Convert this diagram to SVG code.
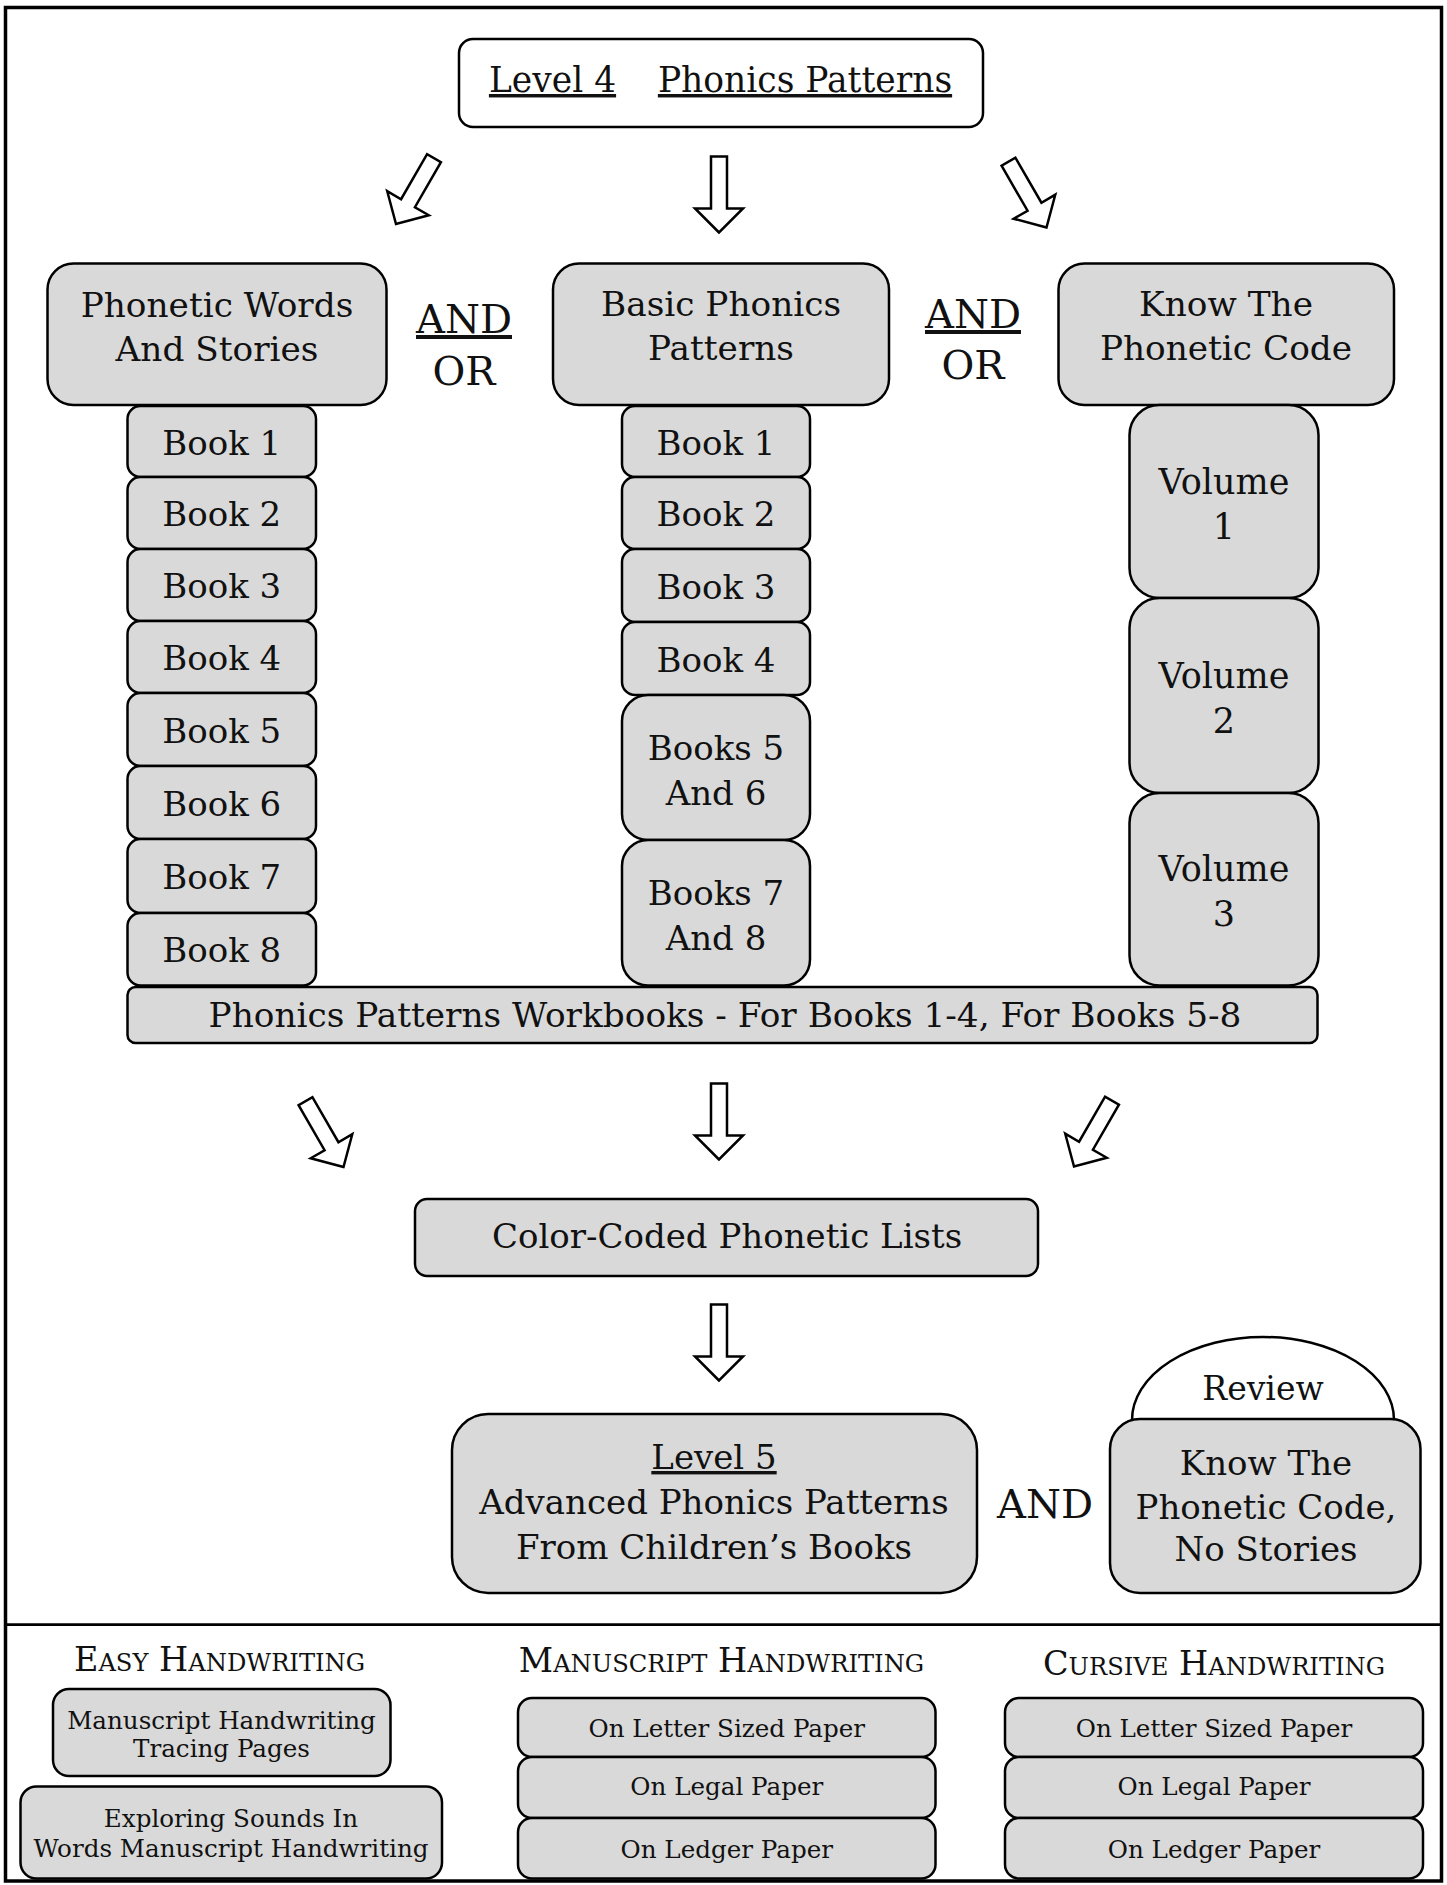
<svg xmlns="http://www.w3.org/2000/svg" width="1447" height="1885" viewBox="0 0 1447 1885">
<defs>
<style>
text{font-family:"DejaVu Serif","Liberation Serif",serif;fill:#111;text-anchor:middle}
.box{fill:#d9d9d9;stroke:#000;stroke-width:2.5}
.wbox{fill:#fff;stroke:#000;stroke-width:2.5}
.arrow{fill:#fff;stroke:#000;stroke-width:2.5;stroke-linejoin:miter}
.hd{font-size:34.3px}
.t34{font-size:34px}
.vol{font-size:35px}
.t40{font-size:40px}
.t33{font-size:33px}
.t24{font-size:24.6px}
.u{text-decoration:underline}
.cap{font-size:33.5px}
.sc{font-size:24.2px}
</style>
<path id="arr" d="M0,0 L-24,-24 L-8,-24 L-8,-76 L8,-76 L8,-24 L24,-24 Z"/>
</defs>
<rect width="1447" height="1885" fill="#fff"/>
<rect x="5.5" y="7.5" width="1436" height="1873.5" fill="none" stroke="#000" stroke-width="3.5"/>
<line x1="5.5" y1="1624.7" x2="1441.5" y2="1624.7" stroke="#000" stroke-width="2.7"/>

<g id="connectors">
<use href="#arr" class="arrow" transform="translate(396,224) rotate(30)"/>
<use href="#arr" class="arrow" transform="translate(719,232.5)"/>
<use href="#arr" class="arrow" transform="translate(1046.5,227.5) rotate(-30)"/>
<use href="#arr" class="arrow" transform="translate(343.5,1167) rotate(-30)"/>
<use href="#arr" class="arrow" transform="translate(719,1159.5)"/>
<use href="#arr" class="arrow" transform="translate(1074,1166.5) rotate(30)"/>
<use href="#arr" class="arrow" transform="translate(719,1380.5)"/>
</g>

<g id="title">
<rect class="wbox" x="459" y="39" width="524" height="88" rx="14"/>
<text class="hd" y="92" style="font-size:34.5px"><tspan class="u" x="552.5">Level 4</tspan><tspan class="u" x="805">Phonics Patterns</tspan></text>
</g>

<g id="phonetic-words">
<rect class="box" x="47.5" y="263.5" width="339" height="141.5" rx="26"/>
<text class="hd" x="217" y="317">Phonetic Words</text>
<text class="hd" x="217" y="361">And Stories</text>
</g>
<g id="basic-phonics">
<rect class="box" x="553" y="263.5" width="336" height="141.5" rx="26"/>
<text class="hd" x="721" y="316">Basic Phonics</text>
<text class="hd" x="721" y="360">Patterns</text>
</g>
<g id="know-code">
<rect class="box" x="1058.5" y="263.5" width="335.5" height="141.5" rx="26"/>
<text class="hd" x="1226" y="316">Know The</text>
<text class="hd" x="1226" y="360">Phonetic Code</text>
</g>

<g id="labels">
<text class="t40 u" x="464" y="333">AND</text>
<text class="t40" x="464" y="385">OR</text>
<text class="t40 u" x="973" y="328">AND</text>
<text class="t40" x="973" y="379">OR</text>
<text class="t40" x="1045" y="1518">AND</text>
</g>

<g id="pws-books">
<rect class="box" x="127.5" y="406" width="188.5" height="71" rx="13"/>
<rect class="box" x="127.5" y="477" width="188.5" height="72" rx="13"/>
<rect class="box" x="127.5" y="549" width="188.5" height="72" rx="13"/>
<rect class="box" x="127.5" y="621" width="188.5" height="72" rx="13"/>
<rect class="box" x="127.5" y="693" width="188.5" height="73" rx="13"/>
<rect class="box" x="127.5" y="766" width="188.5" height="73" rx="13"/>
<rect class="box" x="127.5" y="839" width="188.5" height="74" rx="13"/>
<rect class="box" x="127.5" y="913" width="188.5" height="72.5" rx="13"/>
<text class="t34" x="221.7" y="455">Book 1</text>
<text class="t34" x="221.7" y="526">Book 2</text>
<text class="t34" x="221.7" y="598">Book 3</text>
<text class="t34" x="221.7" y="670">Book 4</text>
<text class="t34" x="221.7" y="742.5">Book 5</text>
<text class="t34" x="221.7" y="815.5">Book 6</text>
<text class="t34" x="221.7" y="889">Book 7</text>
<text class="t34" x="221.7" y="962">Book 8</text>
</g>

<g id="bpp-books">
<rect class="box" x="622" y="406" width="188" height="71" rx="13"/>
<rect class="box" x="622" y="477" width="188" height="72" rx="13"/>
<rect class="box" x="622" y="549" width="188" height="73" rx="13"/>
<rect class="box" x="622" y="622" width="188" height="73" rx="13"/>
<rect class="box" x="622" y="695" width="188" height="145" rx="26"/>
<rect class="box" x="622" y="840" width="188" height="145.5" rx="26"/>
<text class="t34" x="716" y="455">Book 1</text>
<text class="t34" x="716" y="526">Book 2</text>
<text class="t34" x="716" y="598.5">Book 3</text>
<text class="t34" x="716" y="671.5">Book 4</text>
<text class="t34" x="716" y="759.5">Books 5</text>
<text class="t34" x="716" y="805">And 6</text>
<text class="t34" x="716" y="904.7">Books 7</text>
<text class="t34" x="716" y="950">And 8</text>
</g>

<g id="kpc-volumes">
<rect class="box" x="1129.5" y="405" width="189" height="193" rx="30"/>
<rect class="box" x="1129.5" y="598" width="189" height="195" rx="30"/>
<rect class="box" x="1129.5" y="793" width="189" height="192.5" rx="30"/>
<text class="vol" x="1224" y="493.5">Volume</text>
<text class="vol" x="1224" y="538.5">1</text>
<text class="vol" x="1224" y="688">Volume</text>
<text class="vol" x="1224" y="733">2</text>
<text class="vol" x="1224" y="881">Volume</text>
<text class="vol" x="1224" y="926">3</text>
</g>

<g id="workbooks">
<rect class="box" x="127.5" y="987" width="1190" height="56" rx="8"/>
<text class="t34" x="725" y="1027" style="font-size:34.3px">Phonics Patterns Workbooks - For Books 1-4, For Books 5-8</text>
</g>

<g id="color-coded">
<rect class="box" x="415" y="1199" width="623" height="77" rx="12"/>
<text class="t34" x="727" y="1248">Color-Coded Phonetic Lists</text>
</g>

<g id="level5">
<rect class="box" x="452" y="1414" width="525" height="179" rx="36"/>
<text class="t34 u" x="714" y="1469">Level 5</text>
<text class="t34" x="714" y="1514">Advanced Phonics Patterns</text>
<text class="t34" x="714" y="1558.5">From Children’s Books</text>
</g>

<g id="review">
<path d="M1132,1420 A131,83 0 0 1 1394,1420" fill="#fff" stroke="#000" stroke-width="2.5"/>
<text class="t33" x="1263" y="1400">Review</text>
</g>

<g id="know-no-stories">
<rect class="box" x="1110" y="1419" width="310.5" height="174" rx="30"/>
<text class="t34" x="1266" y="1475">Know The</text>
<text class="t34" x="1266" y="1518.5">Phonetic Code,</text>
<text class="t34" x="1266" y="1561">No Stories</text>
</g>

<g id="easy-handwriting">
<text x="219.5" y="1671"><tspan class="cap">E</tspan><tspan class="sc">ASY</tspan><tspan class="cap"> H</tspan><tspan class="sc">ANDWRITING</tspan></text>
<rect class="box" x="53" y="1689" width="337.5" height="87" rx="16"/>
<text class="t24" x="221.5" y="1729">Manuscript Handwriting</text>
<text class="t24" x="221.5" y="1757">Tracing Pages</text>
<rect class="box" x="20.5" y="1786.5" width="421.5" height="92" rx="16"/>
<text class="t24" x="231" y="1827">Exploring Sounds In</text>
<text class="t24" x="231" y="1857">Words Manuscript Handwriting</text>
</g>

<g id="manuscript-handwriting">
<text x="721.5" y="1671.5"><tspan class="cap">M</tspan><tspan class="sc">ANUSCRIPT</tspan><tspan class="cap"> H</tspan><tspan class="sc">ANDWRITING</tspan></text>
<rect class="box" x="518" y="1698" width="417.5" height="59" rx="14"/>
<rect class="box" x="518" y="1757" width="417.5" height="61" rx="14"/>
<rect class="box" x="518" y="1818" width="417.5" height="60.5" rx="14"/>
<text class="t24" x="726.8" y="1736.5">On Letter Sized Paper</text>
<text class="t24" x="726.8" y="1795">On Legal Paper</text>
<text class="t24" x="726.8" y="1857.5">On Ledger Paper</text>
</g>

<g id="cursive-handwriting">
<text x="1214" y="1674.5"><tspan class="cap">C</tspan><tspan class="sc">URSIVE</tspan><tspan class="cap"> H</tspan><tspan class="sc">ANDWRITING</tspan></text>
<rect class="box" x="1005" y="1698" width="418" height="59" rx="14"/>
<rect class="box" x="1005" y="1757" width="418" height="61" rx="14"/>
<rect class="box" x="1005" y="1818" width="418" height="60.5" rx="14"/>
<text class="t24" x="1214" y="1736.5">On Letter Sized Paper</text>
<text class="t24" x="1214" y="1795">On Legal Paper</text>
<text class="t24" x="1214" y="1857.5">On Ledger Paper</text>
</g>
</svg>
